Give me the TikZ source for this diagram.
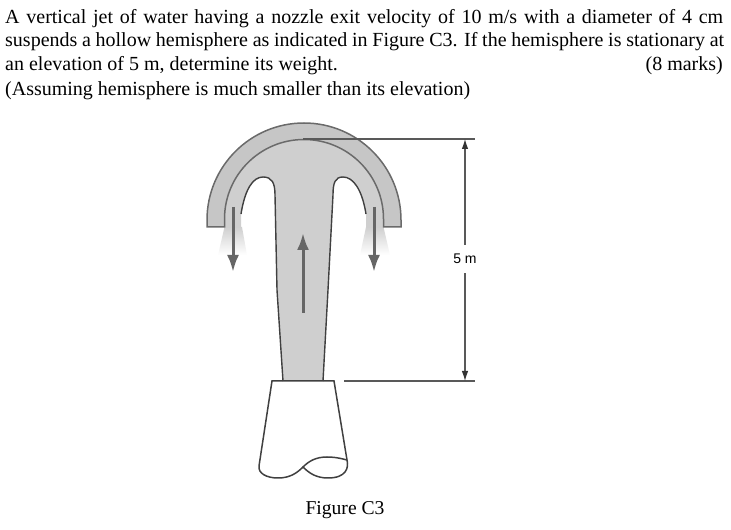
\documentclass[tikz,border=0pt]{standalone}
\usepackage{fontspec}
\setmainfont{Liberation Serif}
\setsansfont{Liberation Sans}
\usepackage{tikz}
\usetikzlibrary{positioning,arrows.meta}
\definecolor{watergray}{HTML}{CFCFCF}
\definecolor{shellgray}{HTML}{C6C6C6}
\definecolor{edgegray}{HTML}{6A6A6A}
\definecolor{flowgray}{HTML}{666666}
\tikzset{
    question/.style = {
        anchor=base west,
        inner sep=0pt,
        font=\fontsize{20}{23}\selectfont
    },
    shell/.style = {
        draw=edgegray,
        fill=shellgray,
        line width=1.5pt
    },
    jetedge/.style = {
        draw=black!75,
        line width=1.4pt
    },
    flow/.style = {
        draw=flowgray,
        line width=3pt,
        -{Latex[length=17pt,width=12pt]}
    },
    fadeflow/.style = {
        top color=watergray,
        bottom color=white,
        draw=none
    },
    dimline/.style = {
        draw=black!65,
        line width=1.3pt
    },
    dimarrow/.style = {
        draw=black!65,
        line width=1.1pt,
        {Latex[length=10pt,width=6.5pt,black!80]}-
    },
}
\begin{document}
\begin{tikzpicture}[x=1pt,y=1pt]
    \useasboundingbox (0,0) rectangle (731,530);

    % question text
    \node[question] (line1) at (5,506.5) {\makebox[718pt][s]{A vertical jet of water having a nozzle exit velocity of 10 m/s with a diameter of 4 cm}};
    \node[question, below=23.5pt of line1.base west, anchor=base west] (line2) {\makebox[719pt][s]{suspends a hollow hemisphere as indicated in Figure C3. If the hemisphere is stationary at}};
    \node[question, below=23.5pt of line2.base west, anchor=base west] (line3) {an elevation of 5 m, determine its weight.};
    \node[question, anchor=base east] (marks) at (723,0 |- line3.base) {(8 marks)};
    \node[question, below=25.5pt of line3.base west, anchor=base west] (line4) {(Assuming hemisphere is much smaller than its elevation)};

    % water
    \path[fadeflow] (224.5,303) -- (242,303) -- (247,275) -- (218,275) -- cycle;
    \path[fadeflow] (366,303) -- (383.5,303) -- (390,275) -- (360,275) -- cycle;
    \path[fill=watergray] (224.5,303) -- (224.5,311) arc (180:0:79.5) -- (383.5,303) -- (366,303) -- (366,316)
        .. controls (362,341) and (353,353) .. (343,353)
        .. controls (335,353) and (333,347) .. (333,335)
        -- (328,240) -- (323,149) -- (283,149) -- (277,240) -- (275,335)
        .. controls (275,347) and (272,353) .. (263,353)
        .. controls (253,353) and (245,341) .. (241,316) -- (241,303) -- cycle;
    \draw[jetedge] (241,316) .. controls (245,341) and (253,353) .. (263,353)
        .. controls (272,353) and (275,347) .. (275,335) -- (277,240) -- (283,149);
    \draw[jetedge] (366,316) .. controls (362,341) and (353,353) .. (343,353)
        .. controls (335,353) and (333,347) .. (333,335) -- (328,240) -- (323,149);

    % hemisphere
    \path[shell] (207,303) -- (207,310) arc (180:0:97) -- (401,303) -- (383.5,303) -- (383.5,311) arc (0:180:79.5) -- (224.5,303) -- cycle;

    % nozzle
    \draw[line width=1.5pt, draw=black!75] (272,149) -- (334,149) -- (347,70)
        .. controls (349,62) and (346,52) .. (328,52)
        .. controls (316,52) and (309,57) .. (303,63)
        .. controls (297,57) and (290,52) .. (278,52)
        .. controls (266,52) and (258,57) .. (259,64) -- cycle;
    \draw[line width=1.5pt, draw=black!75] (303,63) .. controls (309,69) and (316,73) .. (327,73)
        .. controls (338,73) and (346,70) .. (347,70);

    % flow arrows
    \coordinate (leftstart) at (233,323);
    \coordinate (leftend) at (233,258);
    \coordinate (rightstart) at (374,323);
    \coordinate (rightend) at (374,258);
    \coordinate (jetstart) at (303,217);
    \coordinate (jetend) at (303,297);
    \draw[flow] (leftstart) -- (leftend);
    \draw[flow] (rightstart) -- (rightend);
    \draw[flow] (jetstart) -- (jetend);

    % dimension
    \coordinate (crown) at (303,391);
    \coordinate (crownend) at (475,391);
    \coordinate (exit) at (344,149);
    \coordinate (exitend) at (475,149);
    \coordinate (dimtop) at (465,391);
    \coordinate (dimbottom) at (465,149);
    \node[font=\sffamily\fontsize{14}{15}\selectfont, inner sep=0pt, minimum height=27pt] (height) at (465,271) {5 m};
    \draw[dimline] (crown) -- (crownend);
    \draw[dimline] (exit) -- (exitend);
    \draw[dimarrow] (dimtop) -- (height);
    \draw[dimarrow] (dimbottom) -- (height);

    \node[question, anchor=base, font=\fontsize{19.6}{23}\selectfont] (caption) at (345,15.5) {Figure C3};
\end{tikzpicture}
\end{document}
